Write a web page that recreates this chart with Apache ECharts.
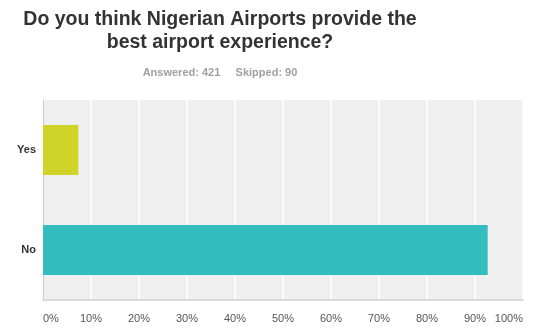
<!DOCTYPE html>
<html>
<head>
<meta charset="utf-8">
<script src="https://cdn.jsdelivr.net/npm/echarts@6/dist/echarts.min.js"></script>
<style>
html,body{margin:0;padding:0;background:#fff;}
#chart{width:535px;height:330px;}
</style>
</head>
<body>
<div id="chart"></div>
<script>
const titleText = "Do you think Nigerian Airports provide the\nbest airport experience?";
const subText = "Answered: 421     Skipped: 90";
const categories = ["Yes", "No"];
const values = [7.36, 92.64];
const colors = ["#d1d428", "#33bdbf"];
const xTicks = [0, 10, 20, 30, 40, 50, 60, 70, 80, 90, 100];

const chart = echarts.init(document.getElementById('chart'));
chart.setOption({
  animation: false,
  backgroundColor: '#ffffff',
  textStyle: { fontFamily: 'Liberation Sans, Arial, sans-serif' },
  title: {
    text: titleText,
    subtext: subText,
    left: 220,
    top: 8,
    textAlign: 'center',
    itemGap: 12,
    padding: 0,
    textStyle: { fontSize: 19.5, fontWeight: 'bold', color: '#333333', lineHeight: 23, fontFamily: 'Liberation Sans, Arial, sans-serif' },
    subtextStyle: { fontSize: 11, fontWeight: 'bold', color: '#a0a0a0', lineHeight: 14, fontFamily: 'Liberation Sans, Arial, sans-serif' }
  },
  grid: { left: 43, right: 12, top: 100, bottom: 30, containLabel: false, show: true, backgroundColor: '#efefef', borderWidth: 0 },
  xAxis: {
    type: 'value',
    min: xTicks[0],
    max: xTicks[xTicks.length - 1],
    interval: 10,
    axisLine: { show: true, onZero: false, lineStyle: { color: '#dadada', width: 2 } },
    axisTick: { show: false },
    splitLine: { show: true, lineStyle: { color: '#ffffff', width: 1.5 } },
    axisLabel: {
      formatter: '{value}%',
      color: '#555555',
      fontSize: 11,
      margin: 13,
      alignMinLabel: 'left',
      alignMaxLabel: 'right'
    }
  },
  yAxis: {
    type: 'category',
    data: categories,
    inverse: true,
    axisLine: { show: true, lineStyle: { color: '#cccccc', width: 1 } },
    axisTick: { show: false },
    axisLabel: { color: '#333333', fontSize: 11, fontWeight: 'bold', margin: 7 }
  },
  series: [{
    type: 'bar',
    barWidth: 50,
    data: values.map((v, i) => ({ value: v, itemStyle: { color: colors[i] } }))
  }]
});
</script>
</body>
</html>
